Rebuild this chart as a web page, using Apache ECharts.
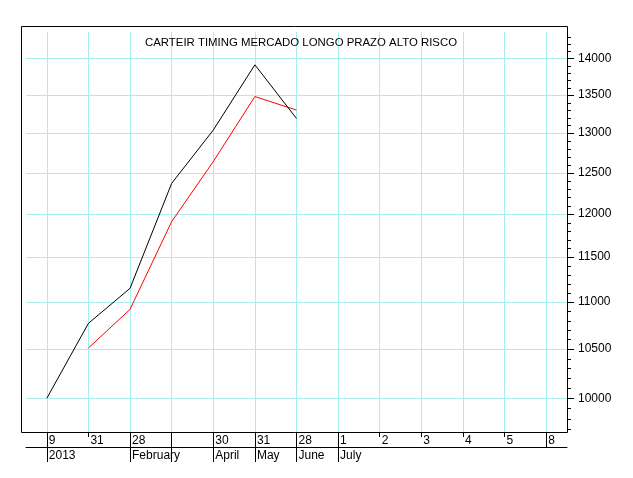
<!DOCTYPE html>
<html>
<head>
<meta charset="utf-8">
<script src="https://cdn.jsdelivr.net/npm/echarts@6/dist/echarts.min.js"></script>
<style>html,body{margin:0;padding:0;background:#fff;}#c{width:633px;height:478px;}</style>
</head>
<body>
<div id="c"></div>
<script>
var titleText = 'CARTEIR TIMING MERCADO LONGO PRAZO ALTO RISCO';
var dayLabels = ['9', '31', '28', '', '30', '31', '28', '1', '2', '3', '4', '5', '8'];
var monthLabels = ['2013', '', 'February', '', 'April', 'May', 'June', 'July', '', '', '', '', ''];
var longTickIdx = [0, 2, 3, 4, 5, 6, 7, 12];
var monthTickIdx = [0, 2, 3, 4, 5, 6, 7];
var monthLabelIdx = [0, 2, 4, 5, 6, 7];
var blackValues = [10000, 10770, 11150, 12370, 13040, 13910, 13190];
var redStart = 1;
var redValues = [10510, 10920, 11910, 12640, 13480, 13300];
var yMajor = [10000, 10500, 11000, 11500, 12000, 12500, 13000, 13500, 14000];
var yMinor = [9700, 9800, 9900, 10100, 10200, 10300, 10400, 10600, 10700, 10800, 10900,
  11100, 11200, 11300, 11400, 11600, 11700, 11800, 11900, 12100, 12200, 12300, 12400,
  12600, 12700, 12800, 12900, 13100, 13200, 13300, 13400, 13600, 13700, 13800, 13900,
  14100, 14200, 14300];
var yMinVal = 9672, yMaxVal = 14369;
var xMin = -0.5, xMax = 12.5;

var L = Math.log10;
var FONT = 'Liberation Sans';
var GRIDC = '#a8eeee';
var idxAll = dayLabels.map(function (d, i) { return i; });

var chart = echarts.init(document.getElementById('c'), null, {renderer: 'canvas'});
var xBase = {type: 'value', gridIndex: 0, min: xMin, max: xMax, position: 'bottom'};
function ext(a, b) { return Object.assign({}, a, b); }

chart.setOption({
  animation: false,
  backgroundColor: '#fff',
  title: {
    text: titleText, left: 140, top: 32,
    textStyle: {fontFamily: FONT, fontSize: 11.4, fontWeight: 'normal', color: '#000'}
  },
  grid: {left: 26, right: 66, top: 32, bottom: 46, containLabel: false},
  graphic: [{
    type: 'rect', silent: true, z: 100,
    shape: {x: 21.5, y: 26.5, width: 546, height: 406},
    style: {fill: 'none', stroke: '#000', lineWidth: 1}
  }],
  xAxis: [
    ext(xBase, {
      axisLine: {show: false, onZero: false},
      axisTick: {show: true, customValues: idxAll, length: 5, lineStyle: {color: '#000'}},
      axisLabel: {
        customValues: idxAll, align: 'left', margin: 3, padding: [0, 0, 0, 2],
        fontFamily: FONT, fontSize: 12, color: '#000',
        formatter: function (v) { return dayLabels[Math.round(v)]; }
      },
      splitLine: {show: true, lineStyle: {color: GRIDC, width: 1}}
    }),
    ext(xBase, {
      axisLine: {show: false, onZero: false},
      axisTick: {show: true, customValues: longTickIdx, length: 15, lineStyle: {color: '#000'}},
      axisLabel: {show: false},
      splitLine: {show: false}
    }),
    ext(xBase, {
      offset: 15,
      axisLine: {show: true, onZero: false, lineStyle: {color: '#000', width: 1}},
      axisTick: {show: true, customValues: monthTickIdx, length: 15, lineStyle: {color: '#000'}},
      axisLabel: {
        customValues: monthLabelIdx, align: 'left', margin: 3, padding: [0, 0, 0, 2],
        fontFamily: FONT, fontSize: 12, color: '#000',
        formatter: function (v) { return monthLabels[Math.round(v)]; }
      },
      splitLine: {show: false}
    })
  ],
  yAxis: [
    {
      type: 'value', gridIndex: 0, position: 'right', min: L(yMinVal), max: L(yMaxVal),
      axisLine: {show: false, onZero: false},
      axisTick: {show: true, customValues: yMajor.map(L), length: 7, lineStyle: {color: '#000'}},
      axisLabel: {
        customValues: yMajor.map(L), margin: 11,
        fontFamily: FONT, fontSize: 12, color: '#000',
        formatter: function (v) { return String(Math.round(Math.pow(10, v))); }
      },
      splitLine: {show: true, lineStyle: {color: GRIDC, width: 1}}
    }
  ],
  series: [
    {
      type: 'line', xAxisIndex: 0, yAxisIndex: 0, symbol: 'none',
      lineStyle: {color: '#000', width: 1}, z: 5,
      data: blackValues.map(function (v, i) { return [i, L(v)]; })
    },
    {
      type: 'line', xAxisIndex: 0, yAxisIndex: 0, symbol: 'none',
      lineStyle: {color: '#ff0000', width: 1}, z: 4,
      data: redValues.map(function (v, i) { return [i + redStart, L(v)]; })
    },
    {
      // minor ticks of the right axis, placed through the axis scales
      type: 'custom', xAxisIndex: 0, yAxisIndex: 0, silent: true, clip: false, z: 6,
      data: yMinor.map(function (v) { return [xMax, L(v)]; }),
      renderItem: function (params, api) {
        var p = api.coord([api.value(0), api.value(1)]);
        var y = Math.round(p[1]) + 0.5;
        return {
          type: 'line',
          shape: {x1: p[0], y1: y, x2: p[0] + 4, y2: y},
          style: {stroke: '#000', lineWidth: 1}
        };
      }
    }
  ]
});
</script>
</body>
</html>
